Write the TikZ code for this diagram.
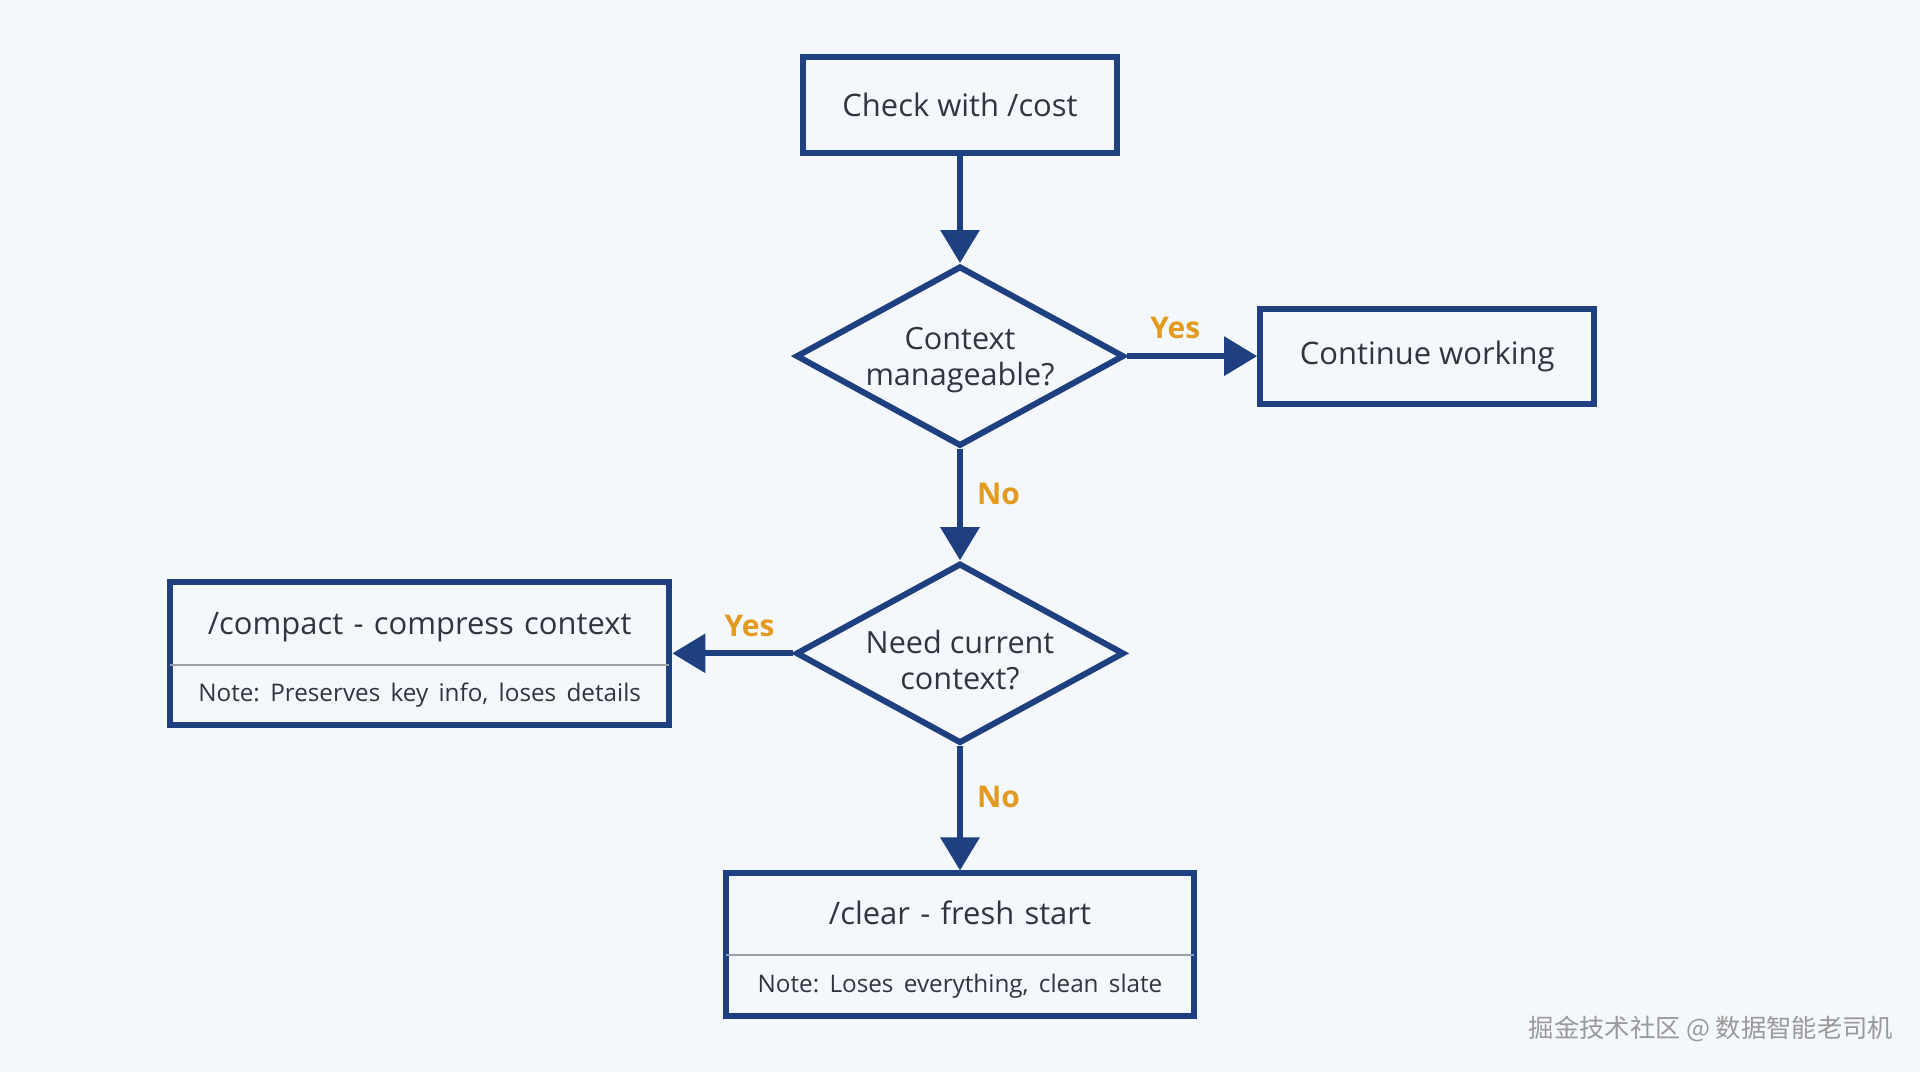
\documentclass[tikz,border=0pt]{standalone}
\usepackage{fontspec}
\setmainfont{Open Sans}
\newfontfamily\cjkfont{Noto Sans CJK SC}
\usepackage{tikz}
\usetikzlibrary{shapes,arrows.meta,positioning}

\definecolor{bgcol}{HTML}{F4F7FB}
\definecolor{boxblue}{HTML}{1E3F80}
\definecolor{textgray}{HTML}{2F3640}
\definecolor{labelorange}{HTML}{E39B1F}
\definecolor{splitgray}{HTML}{9AA0A8}
\newcommand{\notefont}{\fontsize{6.9pt}{9pt}\selectfont}
\frenchspacing

\begin{document}
\begin{tikzpicture}[
    x=0.01cm, y=-0.01cm,
    auto,
    >={Triangle[width=0.38cm,length=0.33cm]},
    block/.style={rectangle, draw=boxblue, line width=0.06cm, text=textgray, font=\fontsize{8.8pt}{10.5pt}\selectfont, minimum height=0.95cm, inner sep=0pt},
    decision/.style={diamond, aspect=1.82, draw=boxblue, line width=0.06cm, text=textgray, font=\fontsize{8.7pt}{10.2pt}\selectfont, align=center, minimum width=3.28cm, minimum height=1.80cm, inner sep=0pt},
    action/.style={rectangle split, rectangle split parts=2, rectangle split draw splits=false, draw=boxblue, line width=0.06cm, text=textgray, font=\fontsize{8.8pt}{10.5pt}\selectfont, align=center, inner sep=0pt},
    arrow/.style={->, draw=boxblue, line width=0.06cm},
    answer/.style={font=\bfseries\fontsize{8.5pt}{10pt}\selectfont, text=labelorange, inner sep=0.14cm},
    split/.style={draw=splitgray, line width=0.02cm, shorten <=0.03cm, shorten >=0.03cm}
]

% Background
\fill [bgcol] (0,0) rectangle (1920,1072);

% Start
\node [block, minimum width=3.13cm] (check) at (960,105) {Check with /cost};

% First question
\node [decision, below of=check, node distance=2.51cm, text height=0.66cm] (manage) {Context\\manageable?};
\node [block, right of=manage, node distance=4.67cm, minimum width=3.34cm] (cont) {Continue working};

% Second question
\node [decision, below of=manage, node distance=2.97cm, text height=0.72cm] (need) {Need current\\context?};

% Commands
\node [action, left of=need, node distance=5.40cm, text width=4.99cm] (compact)
    {\rule[-0.27cm]{0pt}{0.77cm}/compact - compress context
     \nodepart{two}\notefont\rule[-0.20cm]{0pt}{0.54cm}Note: Preserves key info, loses details};
\node [action, below of=need, node distance=2.91cm, text width=4.68cm] (clear)
    {\rule[-0.27cm]{0pt}{0.75cm}/clear - fresh start
     \nodepart{two}\notefont\rule[-0.20cm]{0pt}{0.55cm}Note: Loses everything, clean slate};
\draw [split] (compact.text split west) -- (compact.text split east);
\draw [split] (clear.text split west) -- (clear.text split east);

% Arrows
\draw [arrow] (check) -- (manage);
\draw [arrow] (manage) -- node [answer, pos=0.37] {Yes} (cont);
\draw [arrow] (manage) -- node [answer, pos=0.4] {No} (need);
\draw [arrow] (need) -- node [answer, pos=0.36, swap] {Yes} (compact);
\draw [arrow] (need) -- node [answer, pos=0.41] {No} (clear);

% Watermark
\node [font=\cjkfont\fontsize{7.2pt}{9pt}\selectfont, text=black!40] (mark) at (1711,1029) {掘金技术社区 @ 数据智能老司机};

\end{tikzpicture}
\end{document}
